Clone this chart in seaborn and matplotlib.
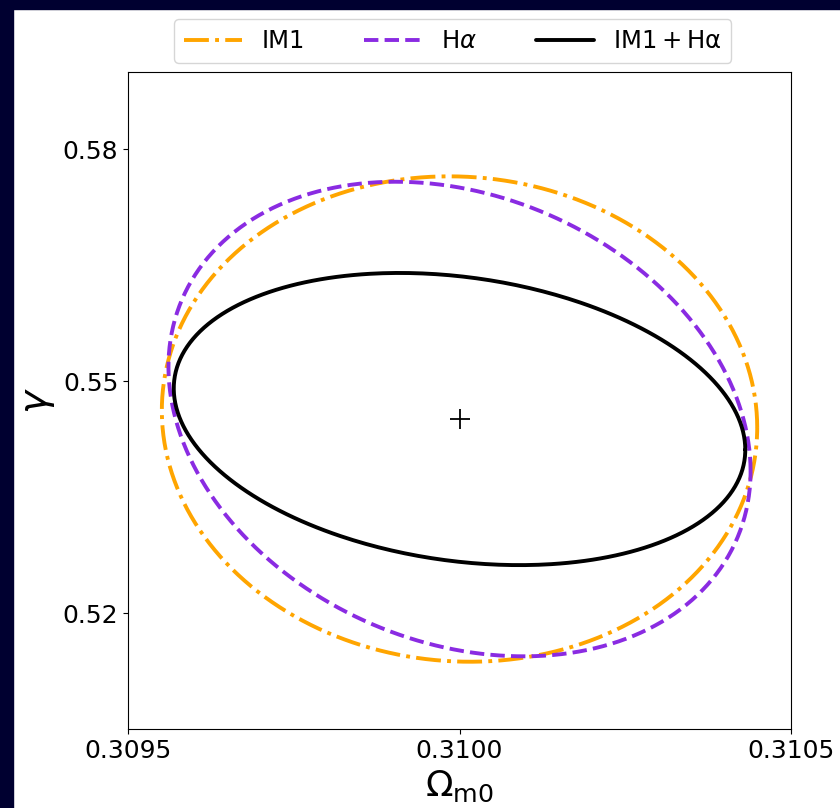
import matplotlib
matplotlib.use("Agg")
import matplotlib.pyplot as plt
from matplotlib.patches import Rectangle
import numpy as np
import pandas as pd
import seaborn as sns

# fiducial point
fid_om = 0.3100
fid_gamma = 0.5451

# contour parameters: half-extents and correlation
labels = ['IM1', r'H$\alpha$', r'$\mathrm{IM1+H\alpha}$']
half_om = [0.000449, 0.000439, 0.000431]
half_gamma = [0.0314, 0.0307, 0.0189]
rho = [-0.035, -0.22, -0.21]
colors = ['#FFA500', '#8A2BE2', 'black']
styles = ['-.', '--', '-']

x_ticks = [0.3095, 0.3100, 0.3105]
y_ticks = [0.52, 0.55, 0.58]

sns.set_style('ticks', {'axes.edgecolor': 'black', 'text.color': 'black',
                        'axes.labelcolor': 'black', 'xtick.color': 'black',
                        'ytick.color': 'black'})
plt.rcParams['font.family'] = ['DejaVu Sans']

fig = plt.figure(figsize=(8.4, 8.08), dpi=100)
ax = fig.add_axes([0.1524, 0.0978, 0.7893, 0.8131])

t = np.linspace(0, 2 * np.pi, 400)
for lab, sx, sy, r, c, ls in zip(labels, half_om, half_gamma, rho, colors, styles):
    df = pd.DataFrame({
        'om': fid_om + sx * np.cos(t),
        'gamma': fid_gamma + sy * (r * np.cos(t) + np.sqrt(1 - r ** 2) * np.sin(t)),
    })
    sns.lineplot(data=df, x='om', y='gamma', sort=False, estimator=None, errorbar=None,
                 color=c, linestyle=ls, lw=2.8, label=lab, ax=ax)

ax.plot(fid_om, fid_gamma, '+', color='black', markersize=14, mew=1.3)

ax.set_xlim(0.3095, 0.3105)
ax.set_ylim(0.505, 0.59)
ax.set_xticks(x_ticks)
ax.set_xticklabels(['%.4f' % v for v in x_ticks])
ax.set_yticks(y_ticks)
ax.set_yticklabels(['%.2f' % v for v in y_ticks])
ax.tick_params(labelsize=18, colors='black')
ax.set_xlabel(r'$\Omega_{\rm m0}$', fontsize=26)
ax.set_ylabel(r'$\gamma$', fontsize=28)

ax.legend(loc='lower center', bbox_to_anchor=(0.49, 1.014), borderaxespad=0, ncol=3,
          fontsize=17.5, handlelength=2.4, columnspacing=2.4, frameon=True)

# dark frame of the slide around the figure
fig.patches.append(Rectangle((0, 0), 13 / 840, 1, transform=fig.transFigure,
                             color='#000030', zorder=-1))
fig.patches.append(Rectangle((0, 1 - 9 / 808), 1, 9 / 808, transform=fig.transFigure,
                             color='#000030', zorder=-1))

fig.savefig('out.png', dpi=100)
